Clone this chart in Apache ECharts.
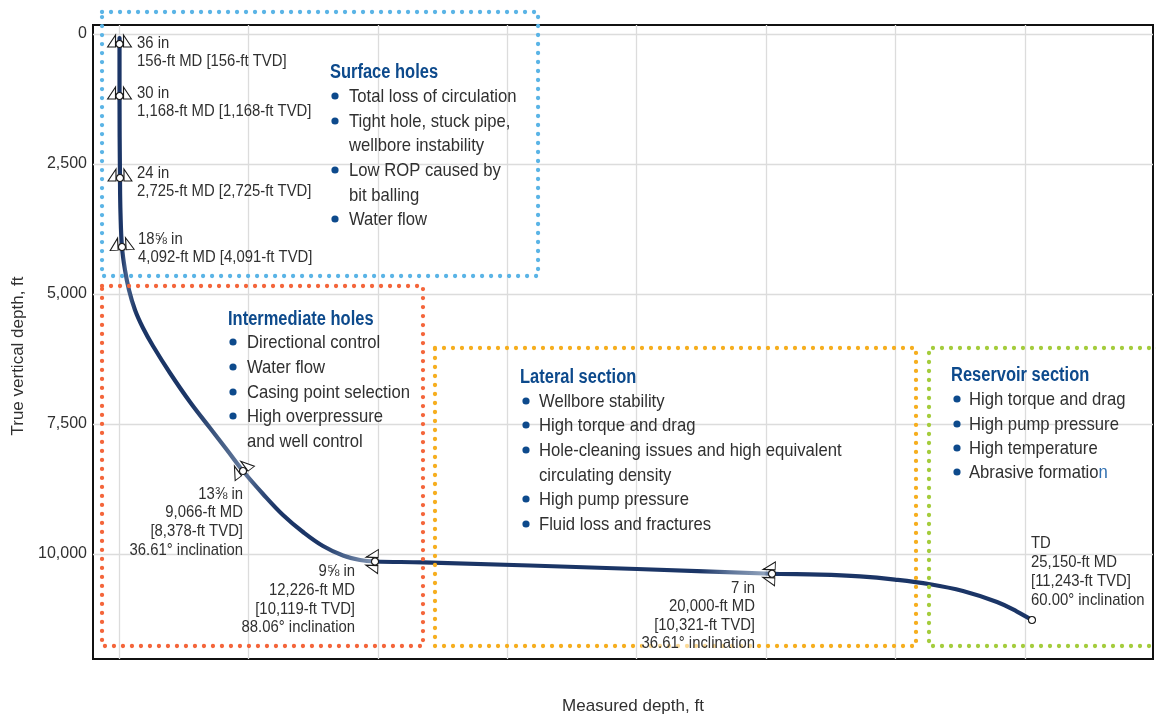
<!DOCTYPE html>
<html>
<head>
<meta charset="utf-8">
<style>html,body{margin:0;padding:0;background:#fff}#c{width:1158px;height:715px}</style>
<script src="https://cdn.jsdelivr.net/npm/echarts@6/dist/echarts.min.js"></script>
</head>
<body>
<div id="c"></div>
<script>
// ---- data ----
const curveX = [10,10,19,29,58,116,193,309,464,657,985,1372,1759,2087,2396,2782,3168,3555,3941,4328,4656,4946,5873,10008,12616,12771,13544,14316,14992,15668,16306,16963,17349,17639];
const curveY = [77,1192,2769,3442,4096,4538,4923,5308,5654,6000,6519,7077,7577,8000,8404,8846,9250,9577,9846,10029,10115,10144,10160,10288,10380,10385,10396,10431,10492,10581,10712,10923,11106,11269];
const shoeX = [10,10,19,58,2396,4946,12616];
const shoeY = [192,1192,2769,4096,8404,10144,10380];
const shoeInclination = [0,0,0,3,36.61,88.06,88];
const tdPoint = [17639,11269];
const yTicks = [0,2500,5000,7500,10000];
const xTicks = [0,2500,5000,7500,10000,12500,15000,17500];
const surfaceBox = [[-328,-423],[8096,-423],[8096,4654],[-328,4654],[-328,-423]];
const intermediateBox = [[-328,4846],[5873,4846],[5873,11769],[-328,11769],[-328,4846]];
const lateralBox = [[6105,6038],[15398,6038],[15398,11769],[6105,11769],[6105,6038]];
const reservoirBox = [[20073,6038],[15649,6038],[15649,11769],[20073,11769]];
const axisTitleX = 'Measured depth, ft';
const axisTitleY = 'True vertical depth, ft';
const surfaceTitle = 'Surface holes';
const surfaceItems = [['Total loss of circulation'],['Tight hole, stuck pipe,','wellbore instability'],['Low ROP caused by','bit balling'],['Water flow']];
const intermediateTitle = 'Intermediate holes';
const intermediateItems = [['Directional control'],['Water flow'],['Casing point selection'],['High overpressure','and well control']];
const lateralTitle = 'Lateral section';
const lateralItems = [['Wellbore stability'],['High torque and drag'],['Hole-cleaning issues and high equivalent','circulating density'],['High pump pressure'],['Fluid loss and fractures']];
const reservoirTitle = 'Reservoir section';
const reservoirItems = [['High torque and drag'],['High pump pressure'],['High temperature'],['Abrasive formatio{n|n}']];
const label36 = ['36 in','156-ft MD [156-ft TVD]'];
const label30 = ['30 in','1,168-ft MD [1,168-ft TVD]'];
const label24 = ['24 in','2,725-ft MD [2,725-ft TVD]'];
const label18 = ['18⅝ in','4,092-ft MD [4,091-ft TVD]'];
const label13 = ['13⅜ in','9,066-ft MD','[8,378-ft TVD]','36.61° inclination'];
const label9 = ['9⅝ in','12,226-ft MD','[10,119-ft TVD]','88.06° inclination'];
const label7 = ['7 in','20,000-ft MD','[10,321-ft TVD]','36.61° inclination'];
const labelTD = ['TD','25,150-ft MD','[11,243-ft TVD]','60.00° inclination'];

// ---- styling & layout ----
const FONT = '"Liberation Sans",sans-serif';
const TEXT = '#303030', HEAD = '#0d4a8c';
const W = 1158, H = 715, L = 93, R = 1153, T = 25, B = 659;
const xScale = 0.05176, yScale = 0.052;   // px per axis unit

const graphics = [];
function txt(x, y, s, size, sx, opt) {
  graphics.push({
    type: 'text', x, y: y + 1, scaleX: sx, z: 50, silent: true,
    style: Object.assign({
      text: s, fill: TEXT, font: size + 'px ' + FONT,
      textAlign: 'left', textVerticalAlign: 'middle',
      rich: { n: { fill: '#2f6fb0', font: size + 'px ' + FONT } }
    }, opt || {})
  });
}
function block(x, ys, lines, opt) { lines.forEach((s, i) => txt(x, ys[i], s, 17, 0.875, opt)); }
function section(title, items, headX, headY, bx, tx, ys) {
  txt(headX, headY + 1, title, 19.5, 0.845, { fill: HEAD, font: 'bold 19.5px ' + FONT });
  let k = 0;
  items.forEach(lines => {
    graphics.push({ type: 'circle', z: 50, silent: true, shape: { cx: bx, cy: ys[k] , r: 3.6 }, style: { fill: HEAD } });
    lines.forEach(s => { txt(tx, ys[k], s, 18.5, 0.9); k++; });
  });
}
section(surfaceTitle, surfaceItems, 330, 71, 335, 349, [96,121,145,170,195,219]);
section(intermediateTitle, intermediateItems, 228, 318, 233, 247, [342,367,392,416,441]);
section(lateralTitle, lateralItems, 520, 376, 526, 539, [401,425,450,475,499,524]);
section(reservoirTitle, reservoirItems, 951, 374, 957, 969, [399,424,448,472]);
block(137, [42,60], label36);
block(137, [92,110], label30);
block(137, [172,190], label24);
block(138, [238,256], label18);
block(243, [493,511,530,549], label13, { textAlign: 'right' });
block(355, [570,589,608,626], label9, { textAlign: 'right' });
block(755, [587,605,624,642], label7, { textAlign: 'right', backgroundColor: 'rgba(255,255,255,0.55)' });
block(1031, [542,561,580,599], labelTD);

const DARK = '#1b3566';
const gx = v => (v - 119) / (1032 - 119);
const wellColor = {
  type: 'linear', global: true, x: 119, y: 0, x2: 1032, y2: 0,
  colorStops: [
    [119, DARK],[122, DARK],[126,'#46608a'],[130,'#3a547f'],[136, DARK],[190, DARK],[225,'#4a6389'],[243,'#64799d'],
    [256,'#3d5681'],[276, DARK],[320, DARK],[345,'#4b648c'],[370,'#7b8fae'],[376, DARK],[700, DARK],[730,'#5d7499'],
    [764,'#8ea0ba'],[772, DARK],[1032, DARK]
  ].map(s => ({ offset: gx(s[0]), color: s[1] }))
};

function dotted(data, color) {
  return {
    type: 'line', data, clip: false, symbol: 'none', silent: true, z: 5, animation: false,
    lineStyle: { color, width: 4.3, type: [0, 9], cap: 'round', join: 'round' }
  };
}
const shoeSymbol = 'path://M-12 3L-4 3L-4 -9ZM4 -9L4 3L12 3ZM0 9L0 9';

const option = {
  animation: false,
  backgroundColor: '#fff',
  textStyle: { fontFamily: FONT },
  grid: { left: L, right: W - R, top: T, bottom: H - B, show: true, outerBoundsMode: 'none', containLabel: false,
    borderColor: '#111', borderWidth: 2, backgroundColor: '#fff' },
  xAxis: {
    type: 'value', min: -(119 - L) / xScale, max: (R - 119) / xScale,
    name: axisTitleX, nameLocation: 'middle', nameGap: 39,
    nameTextStyle: { color: TEXT, fontSize: 17, fontFamily: FONT, padding: [0, 0, 0, 20] },
    axisLine: { show: false },
    axisTick: { show: false, customValues: xTicks },
    axisLabel: { show: false, customValues: xTicks },
    splitLine: { show: true, lineStyle: { color: '#dcdcdc', width: 1.3 } }
  },
  yAxis: {
    type: 'value', inverse: true, min: -(34 - T) / yScale, max: (B - 34) / yScale,
    name: axisTitleY, nameLocation: 'middle', nameGap: 63,
    nameTextStyle: { color: TEXT, fontSize: 17, fontFamily: FONT, padding: [0, 28, 0, 0] },
    axisLine: { show: false },
    axisTick: { show: false, customValues: yTicks },
    axisLabel: { show: true, customValues: yTicks, color: TEXT, fontSize: 16, fontFamily: FONT, margin: 6,
      formatter: v => Number(v).toLocaleString('en-US') },
    splitLine: { show: true, lineStyle: { color: '#dcdcdc', width: 1.3 } }
  },
  series: [
    {
      type: 'line', name: 'Well path', z: 3, symbol: 'none', smooth: 0.4, animation: false, silent: true,
      data: curveX.map((x, i) => [x, curveY[i]]),
      lineStyle: { color: wellColor, width: 4.2, cap: 'round' }
    },
    dotted(surfaceBox, '#5ab4e6'),
    dotted(intermediateBox, '#f4653a'),
    dotted(lateralBox, '#f6ae1e'),
    dotted(reservoirBox, '#a4cc3c'),
    {
      type: 'scatter', z: 8, silent: true, animation: false,
      data: shoeX.map((x, i) => ({ value: [x, shoeY[i]], symbolRotate: shoeInclination[i] })),
      symbol: shoeSymbol, symbolSize: [24, 18],
      itemStyle: { color: '#fff', borderColor: '#1a1a1a', borderWidth: 1, opacity: 1 }
    },
    {
      type: 'scatter', z: 9, silent: true, animation: false,
      data: shoeX.map((x, i) => [x, shoeY[i]]).concat([tdPoint]),
      symbol: 'circle', symbolSize: 7,
      itemStyle: { color: '#fff', borderColor: '#1a1a1a', borderWidth: 1.1, opacity: 1 }
    }
  ],
  graphic: graphics
};
const chart = echarts.init(document.getElementById('c'), null, { renderer: 'canvas' });
chart.setOption(option);
</script>
</body>
</html>
